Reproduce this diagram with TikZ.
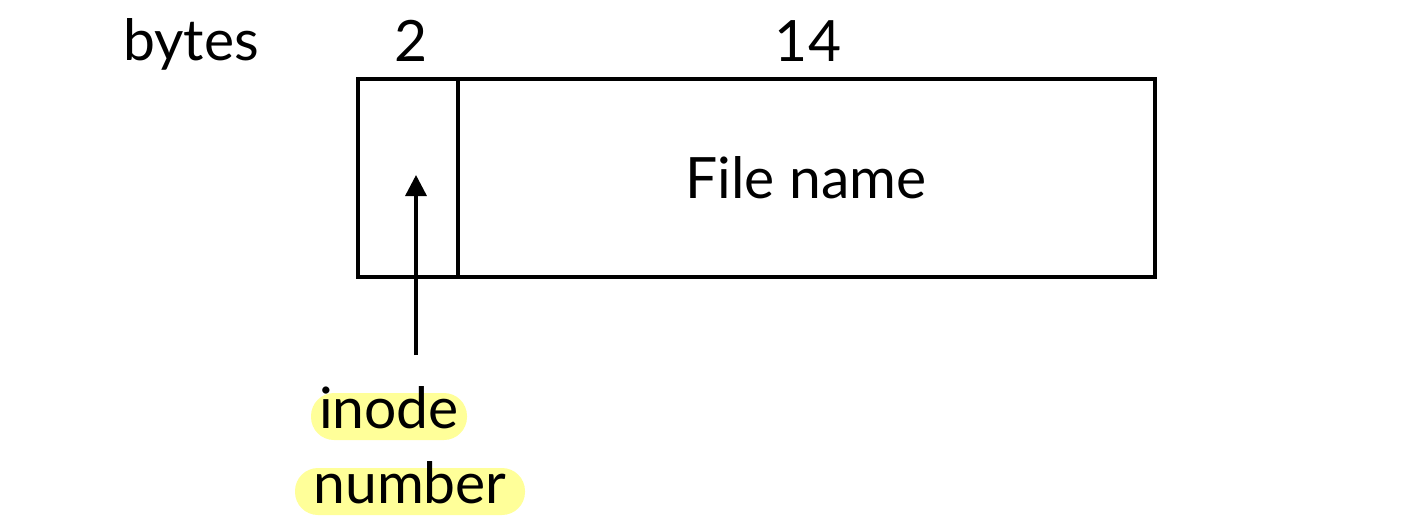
\documentclass[tikz,border=0pt]{standalone}
\usepackage{fontspec}
\setmainfont{Lato}
\usetikzlibrary{arrows.meta}
\definecolor{hl}{HTML}{FFFF99}
\tikzset{
  lbl/.style={font=\fontsize{57}{64}\selectfont, inner sep=0pt, anchor=base},
  hlbox/.style={fill=hl, rounded corners=23pt, inner xsep=0pt, inner ysep=0pt,
    font=\fontsize{57}{64}\selectfont, text height=35pt, text depth=12pt, anchor=base},
  boxline/.style={line width=3.6pt, draw=black},
  arr/.style={line width=3.4pt, -{Triangle[length=21pt,width=21pt]}},
}
\begin{document}
\begin{tikzpicture}[x=1pt,y=-1pt]
\useasboundingbox (0,0) rectangle (1420,530);
\node[boxline, minimum width=100pt, minimum height=198pt, anchor=north west, inner sep=0pt] (ino) at (356,77) {};
\node[boxline, minimum width=697pt, minimum height=198pt, anchor=north west, inner sep=0pt] (fn) at (456,77) {};
\node[lbl] (fname) at (806,198) {File name};
\node[lbl] (bytes) at (191,60) {bytes};
\node[lbl] (two) at (411,61) {2};
\node[lbl] (four) at (808,61) {14};
\coordinate (tip) at (416,175);
\node[hlbox, minimum width=156pt] (inode) at (389,428) {inode};
\node[hlbox, minimum width=230pt] (number) at (410,503) {number};
\coordinate (tail) at (416,355);
\draw[arr] (tail) -- (tip);
\end{tikzpicture}
\end{document}
